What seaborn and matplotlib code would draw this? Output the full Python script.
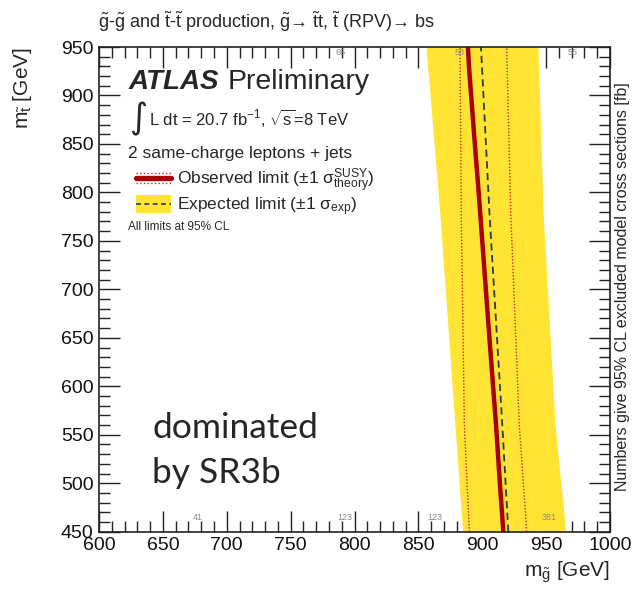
import numpy as np
import pandas as pd
import matplotlib
matplotlib.use("Agg")
import matplotlib.pyplot as plt
import seaborn as sns
from matplotlib.lines import Line2D
from matplotlib.patches import Rectangle
from matplotlib.legend_handler import HandlerBase
from matplotlib.ticker import MultipleLocator

# limit contours, m_stop (y) vs m_gluino (x)
mt_band = [450, 560, 775, 950]
exp_lo = [884.7, 878.6, 867.0, 856.0]
exp_hi = [965.3, 957.0, 947.8, 943.6]
exp_mid = [920.4, 915.7, 905.8, 899.0]

theo_lo = [889.9, 886.0, 883.6, 882.6]
theo_hi = [934.8, 929.0, 922.4, 919.1]

mt_obs = [450, 500, 560, 650, 750, 800, 850, 900, 930, 950]
mg_obs = [916.5, 913.8, 910.8, 905.6, 900.0, 897.2, 894.2, 891.3, 889.6, 888.8]

# excluded cross section numbers printed on the grid
xs_mg = [789, 882.6, 971, 677.7, 792.6, 863, 952]
xs_mt = [944, 944, 944, 464.6, 464.6, 464.6, 464.6]
xs_lab = ["65", "58", "55", "41", "123", "123", "381"]

YELLOW = "#ffe433"
RED = "#aa0000"
DOT = "#d42a1a"
DASH = "#2e3a48"

sns.set_style("ticks")
plt.rcParams["font.family"] = ["Liberation Sans", "DejaVu Sans"]
plt.rcParams["mathtext.fontset"] = "custom"
plt.rcParams["mathtext.rm"] = "Liberation Sans"
plt.rcParams["mathtext.it"] = "Liberation Sans:italic"
plt.rcParams["mathtext.bf"] = "Liberation Sans:bold"

fig = plt.figure(figsize=(6.35, 5.91), dpi=100)
ax = fig.add_axes([99 / 635, 1 - 531.7 / 591, 511 / 635, 484.7 / 591])

ax.fill_betweenx(mt_band, exp_lo, exp_hi, color=YELLOW, lw=0)
df_exp = pd.DataFrame({"mg": exp_mid, "mt": mt_band})
sns.lineplot(data=df_exp, x="mg", y="mt", sort=False, estimator=None, ax=ax,
             color=DASH, lw=1.3, dashes=False, linestyle=(0, (4, 2.5)))
for band in (theo_lo, theo_hi):
    sns.lineplot(x=band, y=mt_band, sort=False, estimator=None, ax=ax,
                 color=DOT, lw=1.0, linestyle=(0, (1, 1.3)))
sns.lineplot(x=mg_obs, y=mt_obs, sort=False, estimator=None, ax=ax,
             color=RED, lw=3.2)

for x, y, s in zip(xs_mg, xs_mt, xs_lab):
    ax.text(x, y, s, fontsize=6.5, color="#8a8a8a", ha="center", va="center")

ax.set_xlim(600, 1000)
ax.set_ylim(450, 950)
ax.xaxis.set_major_locator(MultipleLocator(50))
ax.xaxis.set_minor_locator(MultipleLocator(10))
ax.yaxis.set_major_locator(MultipleLocator(50))
ax.yaxis.set_minor_locator(MultipleLocator(10))
ax.tick_params(which="both", direction="in", top=True, right=True,
               width=1.0, color="#222222", labelsize=14, pad=4,
               labelcolor="#111111")
ax.tick_params(which="major", length=15)
ax.tick_params(which="minor", length=8)
for sp in ax.spines.values():
    sp.set_linewidth(1.2)
    sp.set_color("#222222")
ax.set_xlabel("")
ax.set_ylabel("")

fig.text(610 / 635, 1 - 572 / 591, r"m$_{\tilde{\mathrm{g}}}$ [GeV]", fontsize=15,
         ha="right", va="center")
fig.text(22 / 635, 1 - 47 / 591, r"m$_{\tilde{\mathrm{t}}}$ [GeV]", fontsize=15,
         ha="center", va="top", rotation=90)
fig.text(623 / 635, 1 - 287 / 591,
         "Numbers give 95% CL excluded model cross sections [fb]",
         fontsize=11.5, rotation=90, ha="center", va="center")
fig.text(98 / 635, 1 - 22 / 591,
         r"$\tilde{\mathrm{g}}$-$\tilde{\mathrm{g}}$ and $\tilde{\mathrm{t}}$-$\tilde{\mathrm{t}}$"
         r" production, $\tilde{\mathrm{g}}$" "\u2192" r" $\tilde{\mathrm{t}}$t, $\tilde{\mathrm{t}}$"
         " (RPV)\u2192 bs",
         fontsize=13, ha="left", va="center")

# ATLAS label block
ax.text(0.057, 0.928, "ATLAS", transform=ax.transAxes, fontsize=20,
        fontweight="bold", fontstyle="italic", va="center")
ax.text(0.252, 0.928, "Preliminary", transform=ax.transAxes, fontsize=20.5, va="center")
ax.text(0.059, 0.851, "\u222b", transform=ax.transAxes, fontsize=25, va="center",
        family=["DejaVu Sans"])
ax.text(0.097, 0.8535, r"L dt = 20.7 fb$^{-1}$, $\sqrt{\mathrm{s}}$=8 TeV",
        transform=ax.transAxes, fontsize=12, va="center")
ax.text(0.057, 0.781, "2 same-charge leptons + jets", transform=ax.transAxes,
        fontsize=12.5, va="center")
ax.text(0.057, 0.628, "All limits at 95% CL", transform=ax.transAxes,
        fontsize=8.5, va="center")


class ObsHandler(HandlerBase):
    def create_artists(self, legend, orig_handle, xdescent, ydescent,
                       width, height, fontsize, trans):
        y = height / 2 - ydescent
        out = []
        for dy, lw, ls, c in [(0, 3.8, "-", RED), (height * 0.42, 1.0, ":", DOT),
                              (-height * 0.42, 1.0, ":", DOT)]:
            out.append(Line2D([-xdescent, width - xdescent], [y + dy, y + dy],
                              color=c, lw=lw, ls=ls, transform=trans))
        return out


class ExpHandler(HandlerBase):
    def create_artists(self, legend, orig_handle, xdescent, ydescent,
                       width, height, fontsize, trans):
        r = Rectangle((-xdescent, -ydescent - height * 0.25), width, height * 1.5,
                      color=YELLOW, lw=0, transform=trans)
        y = height / 2 - ydescent
        l = Line2D([-xdescent, width - xdescent], [y, y], color=DASH, lw=1.2,
                   ls=(0, (3, 2)), transform=trans)
        return [r, l]


h_obs = Line2D([], [])
h_exp = Rectangle((0, 0), 1, 1)
ax.legend([h_obs, h_exp],
          [r"Observed limit ($\pm$1 $\mathrm{\sigma}^{\mathrm{SUSY}}_{\mathrm{theory}}$)",
           r"Expected limit ($\pm$1 $\mathrm{\sigma}_{\mathrm{exp}}$)"],
          handler_map={Line2D: ObsHandler(), Rectangle: ExpHandler()},
          loc="upper left", bbox_to_anchor=(0.073, 0.754), frameon=False,
          fontsize=12.5, handlelength=2.0, handletextpad=0.35,
          labelspacing=0.05, borderpad=0, borderaxespad=0)

ax.text(0.104, 0.1926, "dominated", transform=ax.transAxes, fontsize=25.5,
        family=["Lato"], va="baseline")
ax.text(0.104, 0.100, "by SR3b", transform=ax.transAxes, fontsize=25.5,
        family=["Lato"], va="baseline")

fig.savefig("out.png", dpi=100)
